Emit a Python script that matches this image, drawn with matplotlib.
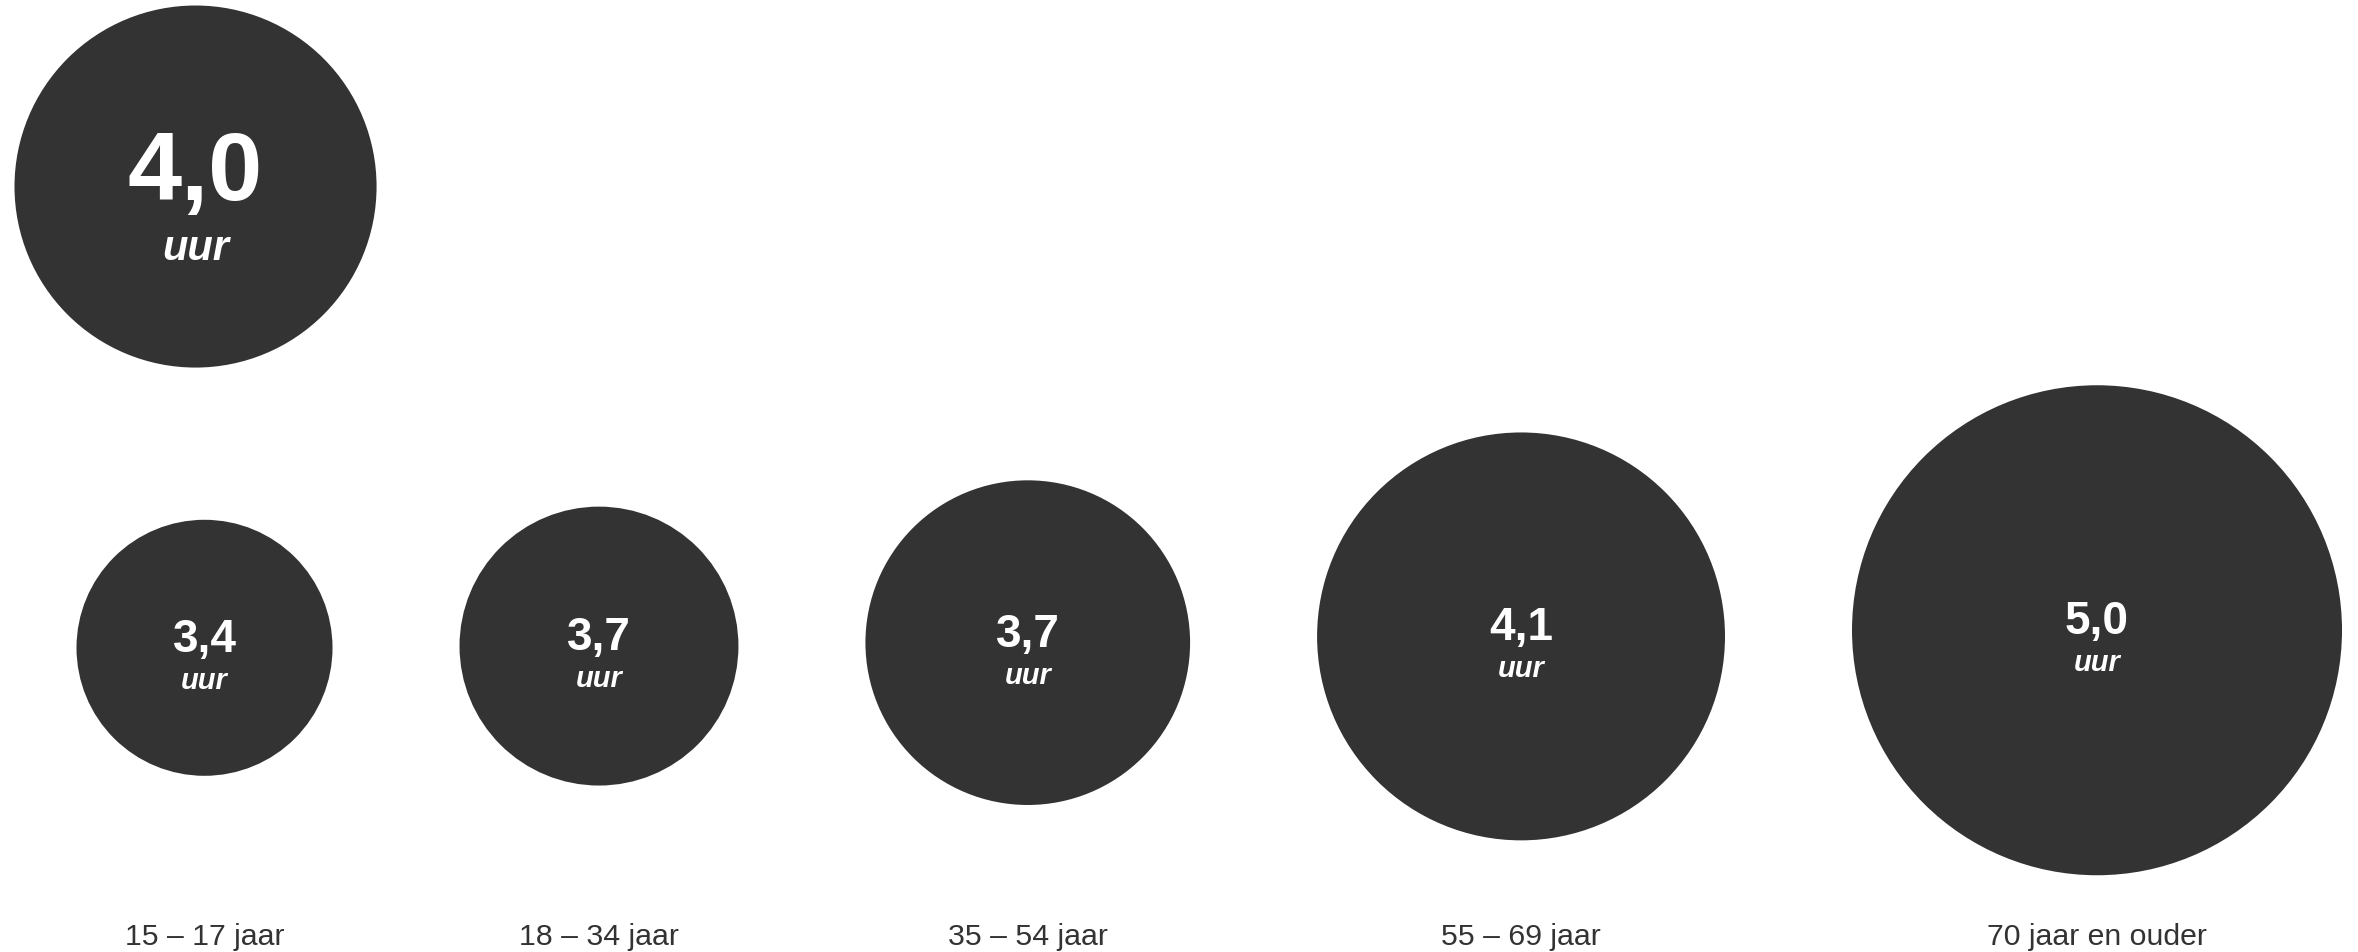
import numpy as np
import matplotlib
matplotlib.use("Agg")
import matplotlib.pyplot as plt
from matplotlib.patches import Circle

# ---- data ----
groups = ["15 – 17 jaar", "18 – 34 jaar", "35 – 54 jaar", "55 – 69 jaar", "70 jaar en ouder"]
hours = [3.4, 3.7, 3.7, 4.1, 5.0]
bubble_weight = [27.3, 32.4, 43.9, 69.3, 100.0]   # relative bubble area
total_hours = 4.0
total_weight = 54.6
unit = "uur"

# ---- style / layout ----
W, H = 2358, 953
CIRCLE = "#333333"
LABEL = "#333333"
FONT = ["Liberation Sans", "DejaVu Sans"]
R_MAX = 245.0
GAP = 127.0
LEFT = 76.5


def radius(w):
    return R_MAX * np.sqrt(w / 100.0)


def row_center(r):
    # larger bubbles sit slightly higher in the row
    return 668.0 - 0.15 * r


def fmt(v):
    return f"{v:.1f}".replace(".", ",")


fig = plt.figure(figsize=(W / 100, H / 100), dpi=100)
ax = fig.add_axes([0, 0, 1, 1])
ax.set_xlim(0, W)
ax.set_ylim(H, 0)
ax.axis("off")

# bottom row
x = LEFT
for g, v, w in zip(groups, hours, bubble_weight):
    r = radius(w)
    cx = x + r
    cy = row_center(r)
    ax.add_patch(Circle((cx, cy), r, facecolor=CIRCLE, edgecolor="none"))
    ax.text(cx, cy + 3, fmt(v), color="white", fontsize=33, fontweight="bold",
            family=FONT, ha="center", va="baseline")
    ax.text(cx, cy + 40, unit, color="white", fontsize=21, fontweight="bold",
            fontstyle="italic", family=FONT, ha="center", va="baseline")
    ax.text(cx, 945, g, color=LABEL, fontsize=21.8, family=FONT,
            ha="center", va="baseline")
    x = cx + r + GAP

# total circle (top-left)
rt = radius(total_weight)
cx, cy = 14.5 + rt, 6.5 + rt
ax.add_patch(Circle((cx, cy), rt, facecolor=CIRCLE, edgecolor="none"))
ax.text(cx, cy + 12, fmt(total_hours), color="white", fontsize=70, fontweight="bold",
        family=FONT, ha="center", va="baseline")
ax.text(cx, cy + 72, unit, color="white", fontsize=30, fontweight="bold",
        fontstyle="italic", family=FONT, ha="center", va="baseline")

fig.savefig("out.png", dpi=100, facecolor="white")
